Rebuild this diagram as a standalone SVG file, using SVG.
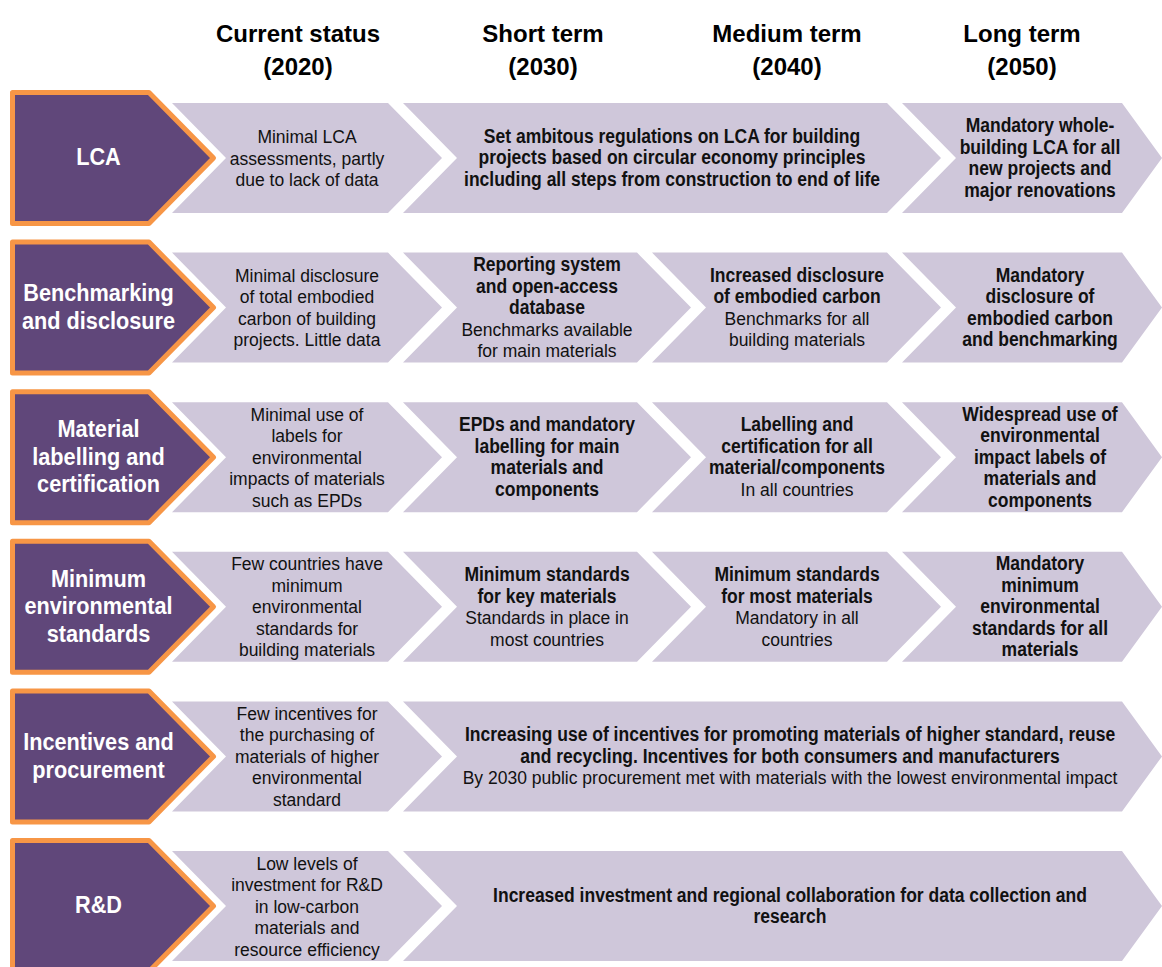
<svg xmlns="http://www.w3.org/2000/svg" width="1162" height="967" viewBox="0 0 1162 967">
<style>
  .bg{fill:#ffffff}
  .dark{fill:#60477A;stroke:#F79646;stroke-width:5;stroke-linejoin:round}
  .chev{fill:#CFC7DA}
  text{font-family:"Liberation Sans",Arial,sans-serif;text-anchor:middle}
  .hdr{font-size:24px;font-weight:bold;fill:#000}
  .lbl{font-size:24.5px;font-weight:bold;fill:#ffffff}
  .b{font-size:20px;font-weight:bold;fill:#111}
  .r{font-size:17.5px;fill:#111}
</style>
<rect class="bg" x="0" y="0" width="1162" height="967"/>

<g id="headers">
  <text class="hdr" x="298" y="42">Current status</text>
  <text class="hdr" x="298" y="75">(2020)</text>
  <text class="hdr" x="543" y="42">Short term</text>
  <text class="hdr" x="543" y="75">(2030)</text>
  <text class="hdr" x="787" y="42">Medium term</text>
  <text class="hdr" x="787" y="75">(2040)</text>
  <text class="hdr" x="1022" y="42">Long term</text>
  <text class="hdr" x="1022" y="75">(2050)</text>
</g>

<!-- Row 1: LCA -->
<g id="row-lca">
  <path class="dark" d="M12.5,92.5 H149 L213.5,158 L149,223.5 H12.5 Z"/>
  <g transform="translate(98.5 0) scale(0.885 1)"><text class="lbl" x="0" y="165.5">LCA</text></g>
</g>
<g id="lca-current">
  <polygon class="chev" points="172,103 388,103 442,158 388,213 172,213 226,158"/>
  <text class="r" x="307" y="143">Minimal LCA</text>
  <text class="r" x="307" y="164.5">assessments, partly</text>
  <text class="r" x="307" y="186">due to lack of data</text>
</g>
<g id="lca-short-medium">
  <polygon class="chev" points="403,103 887,103 941,158 887,213 403,213 457,158"/>
  <g transform="translate(672 0) scale(0.875 1)">
    <text class="b" x="0" y="143">Set ambitous regulations on LCA for building</text>
    <text class="b" x="0" y="164.5">projects based on circular economy principles</text>
    <text class="b" x="0" y="186">including all steps from construction to end of life</text>
  </g>
</g>
<g id="lca-long">
  <polygon class="chev" points="902,103 1122,103 1162,158 1122,213 902,213 956,158"/>
  <g transform="translate(1040 0) scale(0.875 1)">
    <text class="b" x="0" y="132.25">Mandatory whole-</text>
    <text class="b" x="0" y="153.75">building LCA for all</text>
    <text class="b" x="0" y="175.25">new projects and</text>
    <text class="b" x="0" y="196.75">major renovations</text>
  </g>
</g>

<!-- Row 2: Benchmarking -->
<g id="row-benchmarking">
  <path class="dark" d="M12.5,242.1 H149 L213.5,307.6 L149,373.1 H12.5 Z"/>
  <g transform="translate(98.5 0) scale(0.885 1)">
    <text class="lbl" x="0" y="301.35">Benchmarking</text>
    <text class="lbl" x="0" y="328.85">and disclosure</text>
  </g>
</g>
<g id="bench-current">
  <polygon class="chev" points="172,252.6 388,252.6 442,307.6 388,362.6 172,362.6 226,307.6"/>
  <text class="r" x="307" y="281.85">Minimal disclosure</text>
  <text class="r" x="307" y="303.35">of total embodied</text>
  <text class="r" x="307" y="324.85">carbon of building</text>
  <text class="r" x="307" y="346.35">projects. Little data</text>
</g>
<g id="bench-short">
  <polygon class="chev" points="403,252.6 637,252.6 691,307.6 637,362.6 403,362.6 457,307.6"/>
  <g transform="translate(547 0) scale(0.875 1)">
    <text class="b" x="0" y="271.1">Reporting system</text>
    <text class="b" x="0" y="292.6">and open-access</text>
    <text class="b" x="0" y="314.1">database</text>
  </g>
  <text class="r" x="547" y="335.6">Benchmarks available</text>
  <text class="r" x="547" y="357.1">for main materials</text>
</g>
<g id="bench-medium">
  <polygon class="chev" points="652,252.6 887,252.6 941,307.6 887,362.6 652,362.6 706,307.6"/>
  <g transform="translate(797 0) scale(0.875 1)">
    <text class="b" x="0" y="281.85">Increased disclosure</text>
    <text class="b" x="0" y="303.35">of embodied carbon</text>
  </g>
  <text class="r" x="797" y="324.85">Benchmarks for all</text>
  <text class="r" x="797" y="346.35">building materials</text>
</g>
<g id="bench-long">
  <polygon class="chev" points="902,252.6 1122,252.6 1162,307.6 1122,362.6 902,362.6 956,307.6"/>
  <g transform="translate(1040 0) scale(0.875 1)">
    <text class="b" x="0" y="281.85">Mandatory</text>
    <text class="b" x="0" y="303.35">disclosure of</text>
    <text class="b" x="0" y="324.85">embodied carbon</text>
    <text class="b" x="0" y="346.35">and benchmarking</text>
  </g>
</g>

<!-- Row 3: Material labelling -->
<g id="row-labelling">
  <path class="dark" d="M12.5,391.7 H149 L213.5,457.2 L149,522.7 H12.5 Z"/>
  <g transform="translate(98.5 0) scale(0.885 1)">
    <text class="lbl" x="0" y="437.2">Material</text>
    <text class="lbl" x="0" y="464.7">labelling and</text>
    <text class="lbl" x="0" y="492.2">certification</text>
  </g>
</g>
<g id="label-current">
  <polygon class="chev" points="172,402.2 388,402.2 442,457.2 388,512.2 172,512.2 226,457.2"/>
  <text class="r" x="307" y="420.7">Minimal use of</text>
  <text class="r" x="307" y="442.2">labels for</text>
  <text class="r" x="307" y="463.7">environmental</text>
  <text class="r" x="307" y="485.2">impacts of materials</text>
  <text class="r" x="307" y="506.7">such as EPDs</text>
</g>
<g id="label-short">
  <polygon class="chev" points="403,402.2 637,402.2 691,457.2 637,512.2 403,512.2 457,457.2"/>
  <g transform="translate(547 0) scale(0.875 1)">
    <text class="b" x="0" y="431.45">EPDs and mandatory</text>
    <text class="b" x="0" y="452.95">labelling for main</text>
    <text class="b" x="0" y="474.45">materials and</text>
    <text class="b" x="0" y="495.95">components</text>
  </g>
</g>
<g id="label-medium">
  <polygon class="chev" points="652,402.2 887,402.2 941,457.2 887,512.2 652,512.2 706,457.2"/>
  <g transform="translate(797 0) scale(0.875 1)">
    <text class="b" x="0" y="431.45">Labelling and</text>
    <text class="b" x="0" y="452.95">certification for all</text>
    <text class="b" x="0" y="474.45">material/components</text>
  </g>
  <text class="r" x="797" y="495.95">In all countries</text>
</g>
<g id="label-long">
  <polygon class="chev" points="902,402.2 1122,402.2 1162,457.2 1122,512.2 902,512.2 956,457.2"/>
  <g transform="translate(1040 0) scale(0.875 1)">
    <text class="b" x="0" y="420.7">Widespread use of</text>
    <text class="b" x="0" y="442.2">environmental</text>
    <text class="b" x="0" y="463.7">impact labels of</text>
    <text class="b" x="0" y="485.2">materials and</text>
    <text class="b" x="0" y="506.7">components</text>
  </g>
</g>

<!-- Row 4: Minimum environmental standards -->
<g id="row-standards">
  <path class="dark" d="M12.5,541.3 H149 L213.5,606.8 L149,672.3 H12.5 Z"/>
  <g transform="translate(98.5 0) scale(0.885 1)">
    <text class="lbl" x="0" y="586.8">Minimum</text>
    <text class="lbl" x="0" y="614.3">environmental</text>
    <text class="lbl" x="0" y="641.8">standards</text>
  </g>
</g>
<g id="std-current">
  <polygon class="chev" points="172,551.8 388,551.8 442,606.8 388,661.8 172,661.8 226,606.8"/>
  <text class="r" x="307" y="570.3">Few countries have</text>
  <text class="r" x="307" y="591.8">minimum</text>
  <text class="r" x="307" y="613.3">environmental</text>
  <text class="r" x="307" y="634.8">standards for</text>
  <text class="r" x="307" y="656.3">building materials</text>
</g>
<g id="std-short">
  <polygon class="chev" points="403,551.8 637,551.8 691,606.8 637,661.8 403,661.8 457,606.8"/>
  <g transform="translate(547 0) scale(0.875 1)">
    <text class="b" x="0" y="581.05">Minimum standards</text>
    <text class="b" x="0" y="602.55">for key materials</text>
  </g>
  <text class="r" x="547" y="624.05">Standards in place in</text>
  <text class="r" x="547" y="645.55">most countries</text>
</g>
<g id="std-medium">
  <polygon class="chev" points="652,551.8 887,551.8 941,606.8 887,661.8 652,661.8 706,606.8"/>
  <g transform="translate(797 0) scale(0.875 1)">
    <text class="b" x="0" y="581.05">Minimum standards</text>
    <text class="b" x="0" y="602.55">for most materials</text>
  </g>
  <text class="r" x="797" y="624.05">Mandatory in all</text>
  <text class="r" x="797" y="645.55">countries</text>
</g>
<g id="std-long">
  <polygon class="chev" points="902,551.8 1122,551.8 1162,606.8 1122,661.8 902,661.8 956,606.8"/>
  <g transform="translate(1040 0) scale(0.875 1)">
    <text class="b" x="0" y="570.3">Mandatory</text>
    <text class="b" x="0" y="591.8">minimum</text>
    <text class="b" x="0" y="613.3">environmental</text>
    <text class="b" x="0" y="634.8">standards for all</text>
    <text class="b" x="0" y="656.3">materials</text>
  </g>
</g>

<!-- Row 5: Incentives and procurement -->
<g id="row-incentives">
  <path class="dark" d="M12.5,690.9 H149 L213.5,756.4 L149,821.9 H12.5 Z"/>
  <g transform="translate(98.5 0) scale(0.885 1)">
    <text class="lbl" x="0" y="750.15">Incentives and</text>
    <text class="lbl" x="0" y="777.65">procurement</text>
  </g>
</g>
<g id="inc-current">
  <polygon class="chev" points="172,701.4 388,701.4 442,756.4 388,811.4 172,811.4 226,756.4"/>
  <text class="r" x="307" y="719.9">Few incentives for</text>
  <text class="r" x="307" y="741.4">the purchasing of</text>
  <text class="r" x="307" y="762.9">materials of higher</text>
  <text class="r" x="307" y="784.4">environmental</text>
  <text class="r" x="307" y="805.9">standard</text>
</g>
<g id="inc-future">
  <polygon class="chev" points="403,701.4 1122,701.4 1162,756.4 1122,811.4 403,811.4 457,756.4"/>
  <g transform="translate(790 0) scale(0.875 1)">
    <text class="b" x="0" y="741.4">Increasing use of incentives for promoting materials of higher standard, reuse</text>
    <text class="b" x="0" y="762.9">and recycling. Incentives for both consumers and manufacturers</text>
  </g>
  <text class="r" x="790" y="784.4">By 2030 public procurement met with materials with the lowest environmental impact</text>
</g>

<!-- Row 6: R&D -->
<g id="row-rd">
  <path class="dark" d="M12.5,840.5 H149 L213.5,906 L149,971.5 H12.5 Z"/>
  <g transform="translate(98.5 0) scale(0.885 1)"><text class="lbl" x="0" y="913.5">R&amp;D</text></g>
</g>
<g id="rd-current">
  <polygon class="chev" points="172,851 388,851 442,906 388,961 172,961 226,906"/>
  <text class="r" x="307" y="869.5">Low levels of</text>
  <text class="r" x="307" y="891">investment for R&amp;D</text>
  <text class="r" x="307" y="912.5">in low-carbon</text>
  <text class="r" x="307" y="934">materials and</text>
  <text class="r" x="307" y="955.5">resource efficiency</text>
</g>
<g id="rd-future">
  <polygon class="chev" points="403,851 1122,851 1162,906 1122,961 403,961 457,906"/>
  <g transform="translate(790 0) scale(0.875 1)">
    <text class="b" x="0" y="901.75">Increased investment and regional collaboration for data collection and</text>
    <text class="b" x="0" y="923.25">research</text>
  </g>
</g>
</svg>
